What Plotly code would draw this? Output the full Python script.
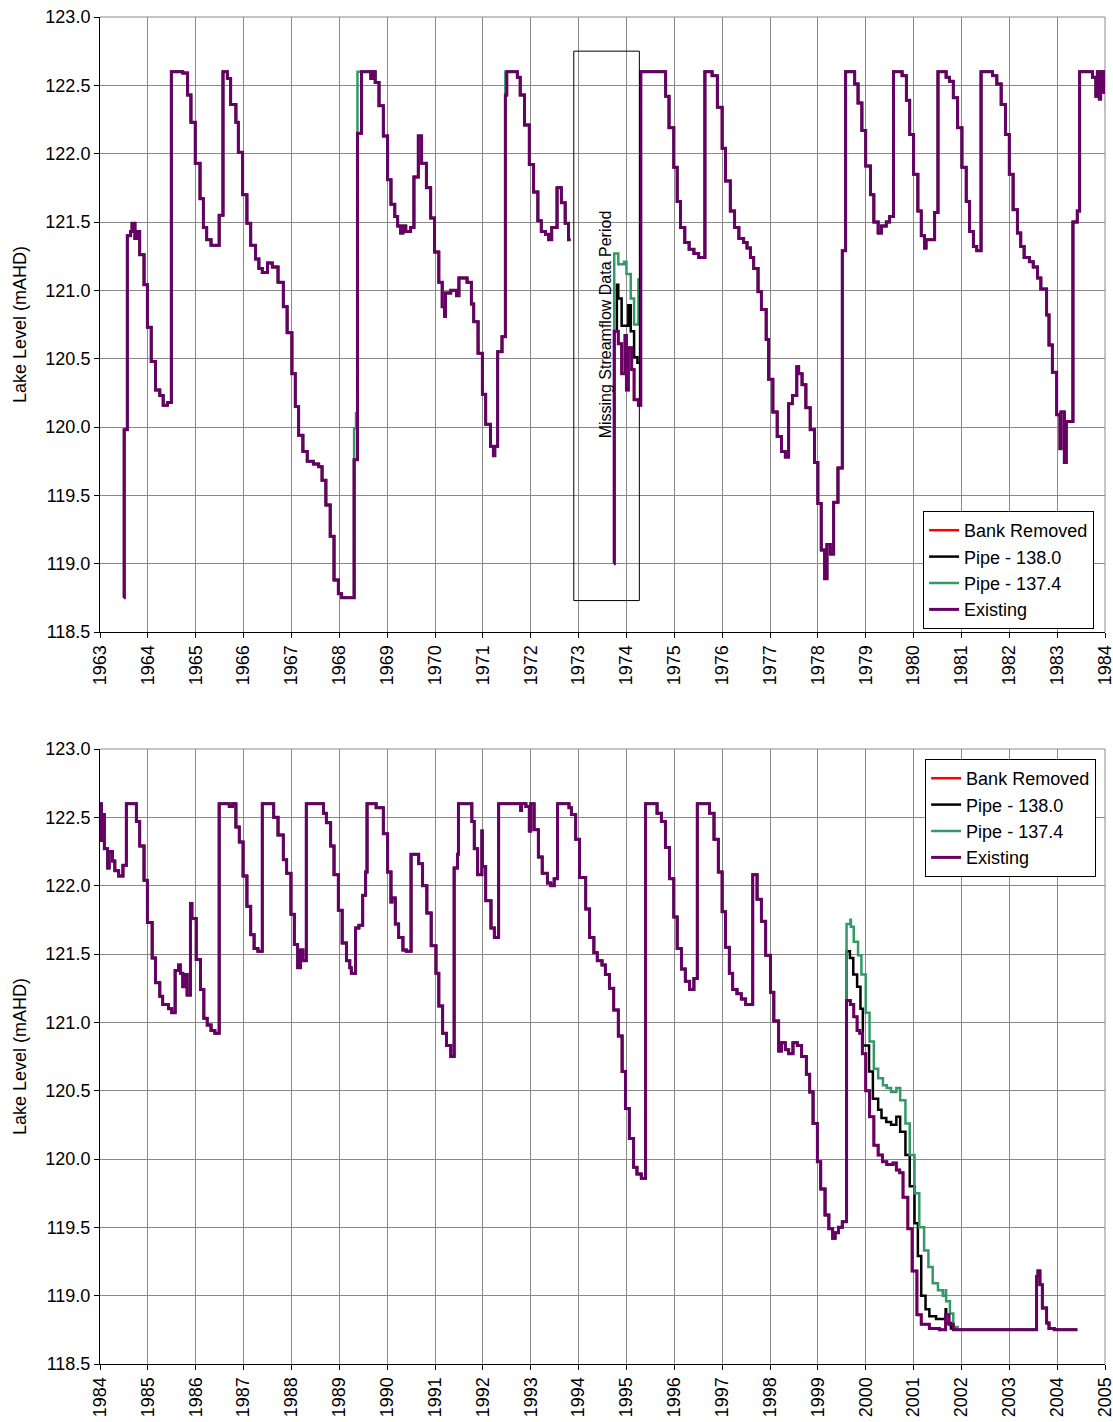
import plotly.graph_objects as go
from plotly.subplots import make_subplots

# ---------------- data (years as decimal, levels in mAHD) ----------------
existing_year = [
    1963.50, 1963.505, 1963.57, 1963.64, 1963.67, 1963.73, 1963.78, 1963.83, 1963.92, 1963.99,
    1964.07, 1964.16, 1964.25, 1964.32, 1964.41, 1964.49, 1964.73, 1964.83, 1964.90, 1964.99,
    1965.09, 1965.16, 1965.23, 1965.32, 1965.49, 1965.57, 1965.66, 1965.73, 1965.84, 1965.89,
    1965.98, 1966.07, 1966.15, 1966.25, 1966.32, 1966.39, 1966.50, 1966.60, 1966.72, 1966.83,
    1966.91, 1967.01, 1967.08, 1967.15, 1967.24, 1967.33, 1967.46, 1967.57, 1967.64, 1967.72,
    1967.81, 1967.89, 1967.98, 1968.05, 1968.31, 1968.38, 1968.465, 1968.66, 1968.715, 1968.75,
    1968.83, 1968.92, 1969.01, 1969.08, 1969.16, 1969.22, 1969.28, 1969.33, 1969.39, 1969.49,
    1969.56, 1969.65, 1969.72, 1969.82, 1969.91, 1969.99, 1970.08, 1970.15, 1970.20, 1970.22,
    1970.33, 1970.45, 1970.50, 1970.67, 1970.76, 1970.81, 1970.90, 1970.99, 1971.06, 1971.16,
    1971.22, 1971.25, 1971.31, 1971.40, 1971.47, 1971.50, 1971.72, 1971.78, 1971.87, 1971.97,
    1972.06, 1972.15, 1972.22, 1972.31, 1972.375, 1972.44, 1972.55, 1972.64, 1972.72, 1972.79,
    1972.83, 1973.00,
    1973.74, 1973.745, 1973.83, 1973.90, 1973.97, 1974.00, 1974.04, 1974.11, 1974.16, 1974.25,
    1974.30, 1974.82, 1974.89, 1974.99, 1975.06, 1975.13, 1975.22, 1975.31, 1975.41, 1975.51,
    1975.64, 1975.79, 1975.90, 1976.00, 1976.07, 1976.17, 1976.26, 1976.35, 1976.45, 1976.52,
    1976.59, 1976.66, 1976.75, 1976.82, 1976.92, 1976.97, 1977.06, 1977.15, 1977.24, 1977.32,
    1977.39, 1977.47, 1977.56, 1977.60, 1977.67, 1977.75, 1977.84, 1977.93, 1978.00, 1978.07,
    1978.14, 1978.19, 1978.26, 1978.33, 1978.42, 1978.51, 1978.58, 1978.77, 1978.84, 1978.92,
    1979.00, 1979.10, 1979.17, 1979.26, 1979.33, 1979.43, 1979.50, 1979.58, 1979.76, 1979.85,
    1979.92, 1980.00, 1980.09, 1980.16, 1980.23, 1980.26, 1980.44, 1980.51, 1980.68, 1980.75,
    1980.83, 1980.92, 1981.01, 1981.10, 1981.17, 1981.25, 1981.32, 1981.41, 1981.65, 1981.74,
    1981.83, 1981.92, 1982.00, 1982.08, 1982.17, 1982.24, 1982.31, 1982.42, 1982.50, 1982.59,
    1982.66, 1982.78, 1982.83, 1982.90, 1982.99, 1983.06, 1983.08, 1983.15, 1983.19, 1983.33,
    1983.42, 1983.47, 1983.74, 1983.81, 1983.84, 1983.88, 1983.91, 1983.95, 1983.98,
    1984.03, 1984.05, 1984.09, 1984.16, 1984.19, 1984.26, 1984.31, 1984.39, 1984.48, 1984.55,
    1984.76, 1984.83, 1984.92, 1984.99, 1985.09, 1985.16, 1985.25, 1985.31, 1985.43, 1985.50,
    1985.57, 1985.64, 1985.68, 1985.73, 1985.76, 1985.82, 1985.89, 1985.92, 1986.01, 1986.10,
    1986.17, 1986.24, 1986.32, 1986.40, 1986.49, 1986.70, 1986.77, 1986.84, 1986.91, 1986.99,
    1987.07, 1987.15, 1987.22, 1987.30, 1987.39, 1987.63, 1987.72, 1987.83, 1987.90, 1987.99,
    1988.06, 1988.13, 1988.19, 1988.24, 1988.31, 1988.67, 1988.73, 1988.82, 1988.89, 1988.98,
    1989.06, 1989.15, 1989.22, 1989.25, 1989.34, 1989.41, 1989.49, 1989.55, 1989.58, 1989.77,
    1989.92, 1990.01, 1990.08, 1990.10, 1990.17, 1990.24, 1990.33, 1990.40, 1990.50, 1990.66,
    1990.74, 1990.83, 1990.92, 1991.02, 1991.08, 1991.16, 1991.24, 1991.33, 1991.40, 1991.47,
    1991.49, 1991.77, 1991.82, 1991.89, 1991.98, 1991.99, 1992.06, 1992.17, 1992.24, 1992.33,
    1992.79, 1992.81, 1992.90, 1992.97, 1993.00, 1993.07, 1993.16, 1993.24, 1993.35, 1993.42,
    1993.49, 1993.56, 1993.80, 1993.85, 1993.94, 1994.02, 1994.15, 1994.23, 1994.32, 1994.39,
    1994.49, 1994.56, 1994.645, 1994.735, 1994.83, 1994.91, 1994.98, 1995.06, 1995.15, 1995.22,
    1995.31, 1995.40, 1995.64, 1995.73, 1995.815, 1995.90, 1995.99, 1996.06, 1996.15, 1996.23,
    1996.32, 1996.41, 1996.48, 1996.735, 1996.83, 1996.92, 1997.00, 1997.07, 1997.15, 1997.22,
    1997.31, 1997.40, 1997.49, 1997.64, 1997.73, 1997.82, 1997.91, 1998.01, 1998.08, 1998.18,
    1998.24, 1998.32, 1998.39, 1998.48, 1998.57, 1998.66, 1998.76, 1998.83, 1998.90, 1998.99,
    1999.06, 1999.15, 1999.23, 1999.31, 1999.36, 1999.43, 1999.51, 1999.60, 1999.68, 1999.75,
    1999.82, 1999.875, 1999.93, 2000.00, 2000.08, 2000.17, 2000.26, 2000.35, 2000.44, 2000.57,
    2000.64, 2000.71, 2000.78, 2000.88, 2000.97, 2001.07, 2001.16, 2001.33, 2001.54, 2001.67,
    2001.74, 2001.83, 2003.57, 2003.60, 2003.64, 2003.69, 2003.78, 2003.83, 2003.94, 2004.01,
    2004.42,
]
existing_level = [
    118.75, 119.98, 121.40, 121.43, 121.49, 121.38, 121.43, 121.26, 121.04, 120.73,
    120.48, 120.27, 120.23, 120.16, 120.18, 122.60, 122.59, 122.43, 122.23, 121.93,
    121.67, 121.46, 121.37, 121.33, 121.55, 122.60, 122.55, 122.36, 122.23, 122.01,
    121.70, 121.49, 121.33, 121.23, 121.16, 121.13, 121.20, 121.17, 121.06, 120.88,
    120.69, 120.39, 120.15, 119.94, 119.82, 119.75, 119.73, 119.71, 119.61, 119.43,
    119.20, 118.88, 118.78, 118.75, 119.76, 122.15, 122.60, 122.55, 122.60, 122.52,
    122.35, 122.13, 121.81, 121.63, 121.54, 121.47, 121.42, 121.47, 121.43, 121.46,
    121.83, 122.13, 121.93, 121.75, 121.53, 121.28, 121.06, 120.88, 120.81, 120.98,
    121.00, 120.96, 121.09, 121.06, 120.90, 120.77, 120.54, 120.24, 120.02, 119.86,
    119.79, 119.86, 120.55, 120.66, 122.43, 122.60, 122.56, 122.43, 122.21, 121.92,
    121.72, 121.51, 121.43, 121.41, 121.37, 121.46, 121.75, 121.64, 121.49, 121.37,
    121.37, None,
    119.00, 120.70, 120.61, 120.39, 120.67, 120.27, 120.58, 120.42, 120.20, 120.16,
    122.60, 122.42, 122.19, 121.90, 121.65, 121.46, 121.35, 121.30, 121.27, 121.24,
    122.60, 122.57, 122.34, 122.04, 121.80, 121.58, 121.46, 121.38, 121.35, 121.31,
    121.24, 121.16, 120.99, 120.86, 120.64, 120.35, 120.11, 119.93, 119.82, 119.78,
    120.17, 120.23, 120.44, 120.39, 120.31, 120.14, 119.98, 119.74, 119.44, 119.10,
    118.89, 119.14, 119.07, 119.45, 119.70, 121.29, 122.60, 122.51, 122.37, 122.17,
    121.91, 121.70, 121.50, 121.42, 121.47, 121.50, 121.54, 122.60, 122.57, 122.39,
    122.14, 121.85, 121.58, 121.40, 121.31, 121.37, 121.57, 122.60, 122.56, 122.53,
    122.41, 122.19, 121.90, 121.65, 121.43, 121.32, 121.29, 122.60, 122.57, 122.51,
    122.36, 122.14, 121.85, 121.59, 121.42, 121.32, 121.24, 121.21, 121.17, 121.09,
    121.01, 120.82, 120.60, 120.40, 120.09, 119.84, 120.11, 119.74, 120.04, 121.50,
    121.58, 122.60, 122.56, 122.42, 122.60, 122.40, 122.60, 122.45, 122.60,
    122.33, 122.52, 122.27, 122.13, 122.25, 122.18, 122.11, 122.07, 122.15, 122.60,
    122.47, 122.29, 122.04, 121.73, 121.47, 121.29, 121.19, 121.13, 121.10, 121.07,
    121.38, 121.42, 121.36, 121.26, 121.35, 121.20, 121.87, 121.76, 121.46, 121.24,
    121.03, 120.98, 120.94, 120.92, 122.60, 122.58, 122.60, 122.43, 122.32, 122.07,
    121.85, 121.64, 121.54, 121.52, 122.60, 122.50, 122.37, 122.19, 122.09, 121.79,
    121.57, 121.40, 121.53, 121.45, 122.60, 122.53, 122.46, 122.29, 122.08, 121.82,
    121.58, 121.45, 121.40, 121.36, 121.69, 121.71, 121.93, 122.10, 122.60, 122.57,
    122.38, 122.10, 121.88, 121.91, 121.72, 121.62, 121.53, 121.52, 122.23, 122.16,
    122.00, 121.80, 121.56, 121.36, 121.12, 120.92, 120.83, 120.75, 122.13, 122.23,
    122.60, 122.47, 122.27, 122.08, 122.40, 122.14, 121.89, 121.69, 121.62, 122.60,
    122.55, 122.60, 122.58, 122.40, 122.60, 122.41, 122.21, 122.09, 122.02, 122.00,
    122.05, 122.60, 122.57, 122.52, 122.34, 122.06, 121.83, 121.62, 121.51, 121.45,
    121.42, 121.35, 121.25, 121.09, 120.90, 120.64, 120.37, 120.15, 119.94, 119.89,
    119.86, 122.60, 122.53, 122.47, 122.28, 122.05, 121.77, 121.54, 121.39, 121.30,
    121.24, 121.32, 122.60, 122.53, 122.34, 122.10, 121.81, 121.55, 121.36, 121.24,
    121.21, 121.17, 121.13, 122.08, 121.90, 121.74, 121.49, 121.22, 121.01, 120.79,
    120.85, 120.80, 120.77, 120.85, 120.83, 120.75, 120.62, 120.49, 120.26, 119.98,
    119.78, 119.59, 119.49, 119.42, 119.46, 119.50, 119.54, 121.16, 121.13, 121.04,
    120.94, 120.92, 120.77, 120.50, 120.31, 120.10, 120.03, 119.98, 119.96, 119.97,
    119.92, 119.90, 119.72, 119.49, 119.18, 118.86, 118.79, 118.76, 118.75, 118.86,
    118.79, 118.75, 119.14, 119.18, 119.08, 118.91, 118.80, 118.76, 118.75, 118.75,
    118.75,
]

# Periods where the pipe scenarios depart from the existing case
pipe1374_1968_year = [1968.31, 1968.35, 1968.38, 1968.465]
pipe1374_1968_level = [119.99, 120.10, 122.60, 122.60]
pipe1374_1971_year = [1971.47]
pipe1374_1971_level = [122.60]
pipe1374_1974_year = [1973.74, 1973.745, 1973.83, 1973.95, 1974.00, 1974.09, 1974.16, 1974.25, 1974.30]
pipe1374_1974_level = [119.00, 121.27, 121.19, 121.21, 121.12, 120.94, 120.75, 121.08, 122.60]
pipe1374_2000_year = [1999.60, 1999.68, 1999.69, 1999.75, 1999.84, 1999.91, 2000.00, 2000.08, 2000.17,
                      2000.26, 2000.36, 2000.44, 2000.53, 2000.64, 2000.72, 2000.83, 2000.92, 2001.02,
                      2001.12, 2001.22, 2001.31, 2001.40, 2001.51, 2001.61, 2001.67, 2001.68, 2001.76,
                      2001.83, 2001.92]
pipe1374_2000_level = [121.72, 121.75, 121.70, 121.59, 121.49, 121.35, 121.07, 120.86, 120.66,
                       120.59, 120.54, 120.52, 120.49, 120.52, 120.43, 120.26, 120.03, 119.75,
                       119.50, 119.33, 119.21, 119.09, 119.04, 119.00, 119.04, 118.96, 118.87,
                       118.77, 118.75]

pipe1380_1974_year = [1973.74, 1973.745, 1973.80, 1973.83, 1973.90, 1974.04, 1974.09, 1974.16, 1974.23, 1974.30]
pipe1380_1974_level = [119.00, 120.70, 121.04, 120.94, 120.74, 120.89, 120.70, 120.51, 120.47, 122.60]
pipe1380_2000_year = [1999.60, 1999.67, 1999.74, 1999.82, 1999.89, 1999.94, 2000.07, 2000.15, 2000.26,
                      2000.33, 2000.43, 2000.53, 2000.64, 2000.72, 2000.83, 2000.92, 2001.02, 2001.09,
                      2001.16, 2001.25, 2001.33, 2001.47, 2001.67, 2001.68, 2001.78, 2001.89]
pipe1380_2000_level = [121.52, 121.47, 121.35, 121.26, 121.10, 120.83, 120.64, 120.44, 120.36,
                       120.30, 120.27, 120.25, 120.31, 120.20, 120.03, 119.80, 119.53, 119.29,
                       119.00, 118.90, 118.85, 118.83, 118.90, 118.80, 118.76, 118.75]

series_names = ["Bank Removed", "Pipe - 138.0", "Pipe - 137.4", "Existing"]
series_colors = ["#FF0000", "#000000", "#339966", "#660066"]
year_ticks_top = list(range(1963, 1985))
year_ticks_bottom = list(range(1984, 2006))


def apply_windows(base_x, base_y, windows):
    xs, ys = list(base_x), list(base_y)
    for wx, wy in windows:
        nx, ny = [], []
        for x, y in zip(xs, ys):
            if x < wx[0]:
                nx.append(x); ny.append(y)
        nx += list(wx); ny += list(wy)
        for x, y in zip(xs, ys):
            if x > wx[-1]:
                nx.append(x); ny.append(y)
        xs, ys = nx, ny
    return xs, ys


bank_x, bank_y = list(existing_year), list(existing_level)
p138_x, p138_y = apply_windows(existing_year, existing_level,
                               [(pipe1380_1974_year, pipe1380_1974_level),
                                (pipe1380_2000_year, pipe1380_2000_level)])
p137_x, p137_y = apply_windows(existing_year, existing_level,
                               [(pipe1374_1968_year, pipe1374_1968_level),
                                (pipe1374_1971_year, pipe1374_1971_level),
                                (pipe1374_1974_year, pipe1374_1974_level),
                                (pipe1374_2000_year, pipe1374_2000_level)])
series_data = [(bank_x, bank_y), (p138_x, p138_y), (p137_x, p137_y),
               (list(existing_year), list(existing_level))]
widths = [2.5, 2.5, 2.5, 3]

fig = make_subplots(rows=2, cols=1, shared_xaxes=False, vertical_spacing=0.0)

for row, leg in [(1, "legend"), (2, "legend2")]:
    for name, col, (sx, sy), w in zip(series_names, series_colors, series_data, widths):
        fig.add_trace(go.Scatter(x=sx, y=sy, name=name, mode="lines",
                                 line=dict(color=col, width=w, shape="hv"),
                                 connectgaps=False, legend=leg, showlegend=True),
                      row=row, col=1)

font_family = "Liberation Sans, Arial, sans-serif"
grid_color = "#8a8a8a"
axis_common = dict(showgrid=True, gridcolor=grid_color, gridwidth=1, showline=True,
                   linecolor="black", linewidth=1, ticks="outside", ticklen=5,
                   tickcolor="black", tickfont=dict(size=18, color="black", family=font_family),
                   zeroline=False, ticklabeloverflow="allow", automargin=False)

fig.update_xaxes(range=[1963, 1984], tickmode="array", tickvals=year_ticks_top,
                 ticktext=[str(v) for v in year_ticks_top], tickangle=-90, row=1, col=1, **axis_common)
fig.update_xaxes(range=[1984, 2005], tickmode="array", tickvals=year_ticks_bottom,
                 ticktext=[str(v) for v in year_ticks_bottom], tickangle=-90, row=2, col=1, **axis_common)
for r in (1, 2):
    fig.update_yaxes(range=[118.5, 123.0], dtick=0.5, tick0=118.5, tickformat=".1f",
                     title=dict(text="Lake Level (mAHD)", font=dict(size=18, color="black", family=font_family),
                                standoff=14),
                     row=r, col=1, **axis_common)

total_h = 1422 - 17 - 58
fig.update_layout(
    yaxis=dict(domain=[(total_h - 615) / total_h, 1.0]),
    yaxis2=dict(domain=[0.0, 615 / total_h]),
)

# gridlines on the outer right/top edges of each plot area
for xr, yr in [("x", "y"), ("x2", "y2")]:
    fig.add_shape(type="line", xref=f"{xr} domain", yref=f"{yr} domain", x0=1, x1=1, y0=0, y1=1,
                  line=dict(color=grid_color, width=1), layer="below")
    fig.add_shape(type="line", xref=f"{xr} domain", yref=f"{yr} domain", x0=0, x1=1, y0=1, y1=1,
                  line=dict(color=grid_color, width=1), layer="below")

fig.add_shape(type="rect", xref="x", yref="y", x0=1972.90, x1=1974.27, y0=118.73, y1=122.75,
              line=dict(color="black", width=1), fillcolor="rgba(0,0,0,0)")
fig.add_annotation(text="Missing Streamflow Data Period", xref="x", yref="y", x=1973.57, y=120.75,
                   textangle=-90, showarrow=False, font=dict(size=16, color="black", family=font_family))

legend_common = dict(xanchor="left", yanchor="top", bgcolor="white", bordercolor="black", borderwidth=1,
                     font=dict(size=18, color="black", family=font_family), itemwidth=30,
                     tracegroupgap=0)
fig.update_layout(
    width=1113, height=1422,
    margin=dict(l=100, r=8, t=17, b=58, autoexpand=False),
    paper_bgcolor="white", plot_bgcolor="white",
    font=dict(family=font_family, color="black"),
    legend=dict(x=0.819, y=(1364 - 511) / total_h, **legend_common),
    legend2=dict(x=0.821, y=(1364 - 759) / total_h, **legend_common),
)

fig.write_html("out.html")
